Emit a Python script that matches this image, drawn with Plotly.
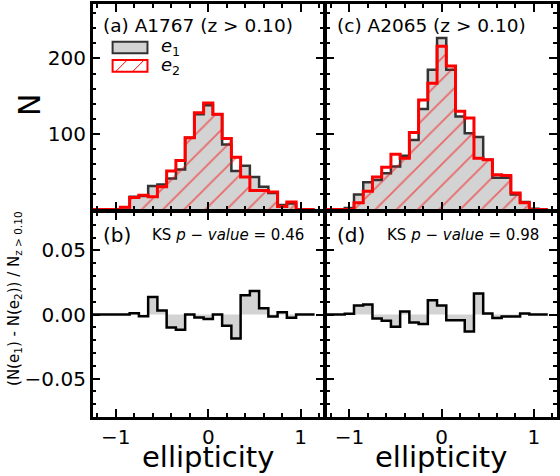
import plotly.graph_objects as go

# ---------------- data ----------------
centers = [-1.2, -1.1, -1.0, -0.9, -0.8, -0.7, -0.6, -0.5, -0.4, -0.3, -0.2, -0.1,
           0.0, 0.1, 0.2, 0.3, 0.4, 0.5, 0.6, 0.7, 0.8, 0.9, 1.0, 1.1]
bin_width = 0.1

a1767_e1 = [0, 0, 0, 3, 17, 18, 31, 33, 41, 53, 95, 126, 138, 126, 86, 51, 58, 43, 30, 22, 6, 8, 0, 0]
a1767_e2 = [0, 0, 0, 3, 16, 19, 17, 30, 51, 65, 95, 128, 141, 126, 94, 69, 43, 25, 25, 23, 4, 10, 0, 0]
a1767_diff = [0, 0, 0, 0, 0.0010, -0.0013, 0.0137, 0.0031, -0.0101, -0.0119, 0.0, -0.0023,
              -0.0036, 0.0, -0.0088, -0.0187, 0.0150, 0.0184, 0.0049, -0.0016, 0.0018, -0.0026, 0, 0]

a2065_e1 = [0, 0, 2, 20, 36, 39, 48, 57, 71, 92, 133, 185, 227, 185, 123, 101, 96, 66, 42, 42, 20, 10, 1, 0]
a2065_e2 = [0, 0, 0, 9, 24, 43, 56, 73, 68, 102, 145, 167, 216, 190, 130, 121, 68, 66, 46, 45, 22, 9, 0, 0]
a2065_diff = [0, 0, 0.0005, 0.0070, 0.0078, -0.0031, -0.0049, -0.0096, 0.0023, -0.0062, -0.0075, 0.0111,
              0.0070, -0.0044, -0.0044, -0.0132, 0.0163, 0.0008, -0.0028, -0.0016, -0.0016, 0.0008, 0, 0]

panel_titles = ["(a) A1767 (z > 0.10)", "(c) A2065 (z > 0.10)"]
diff_labels = ["(b)", "(d)"]
ks_values = ["0.46", "0.98"]

FONT = "DejaVu Sans"
GRAY = "#d3d3d3"
DARK = "#333333"


def step_xy(vals):
    xs = [c - bin_width / 2 for c in centers] + [centers[-1] + bin_width / 2]
    ys = list(vals) + [vals[-1]]
    return xs, ys


fig = go.Figure()

panels = [
    (a1767_e1, a1767_e2, a1767_diff, "x", "y", "x3", "y3"),
    (a2065_e1, a2065_e2, a2065_diff, "x2", "y2", "x4", "y4"),
]
for e1, e2, diff, xt, yt, xb, yb in panels:
    x1, y1 = step_xy(e1)
    fig.add_trace(go.Scatter(x=x1, y=y1, mode="lines", line=dict(color=DARK, width=2.5, shape="hv"),
                             fill="tozeroy", fillcolor=GRAY, xaxis=xt, yaxis=yt, showlegend=False,
                             hoverinfo="skip"))
    x2, y2 = step_xy(e2)
    fig.add_trace(go.Scatter(x=x2, y=y2, mode="lines", line=dict(color="red", width=3, shape="hv"),
                             fill="tozeroy", fillcolor="rgba(0,0,0,0)",
                             fillpattern=dict(shape="/", fgcolor="red", bgcolor="rgba(0,0,0,0)",
                                              size=15, solidity=0.12, fillmode="overlay"),
                             xaxis=xt, yaxis=yt, showlegend=False, hoverinfo="skip"))
    xd, yd = step_xy(diff)
    fig.add_trace(go.Scatter(x=xd, y=yd, mode="lines", line=dict(color="black", width=2.5, shape="hv"),
                             fill="tozeroy", fillcolor=GRAY, xaxis=xb, yaxis=yb, showlegend=False,
                             hoverinfo="skip"))

W, H = 560, 476
def px(x):
    return x / W
def py(y):
    return 1 - y / H

LW = 2.5
xl = [px(93), px(325)]
xr = [px(325 + LW), px(559)]
ytop = [py(209.5), py(4)]
ybot = [py(417), py(209.5 + LW)]

axis_common = dict(showline=True, mirror="allticks", linecolor="black", linewidth=LW,
                   ticks="inside", ticklen=8, tickwidth=2, tickcolor="black",
                   showgrid=False, zeroline=False,
                   tickfont=dict(family=FONT, size=20, color="black"))

xmin, xmax = -1.25, 1.25
xminor = dict(ticks="inside", ticklen=4, tickwidth=1.5, tickcolor="black", dtick=0.2, tick0=0, showgrid=False)

def xax(domain, anchor, labels):
    d = dict(axis_common)
    d.update(domain=domain, anchor=anchor, range=[xmin, xmax], tickmode="array",
             tickvals=[-1, 0, 1], showticklabels=labels, minor=xminor)
    return d

ytop_rng = [0, 272]
def yax_top(domain, anchor, labels):
    d = dict(axis_common)
    d.update(domain=domain, anchor=anchor, range=ytop_rng, tickmode="array",
             tickvals=[0, 100, 200], ticktext=["", "100", "200"], showticklabels=labels,
             minor=dict(ticks="inside", ticklen=4, tickwidth=1.5, tickcolor="black",
                        tickmode="linear", tick0=0, dtick=20, showgrid=False))
    return d

def yax_bot(domain, anchor, labels):
    d = dict(axis_common)
    d.update(domain=domain, anchor=anchor, range=[-0.08, 0.08], tickmode="array",
             tickvals=[-0.05, 0, 0.05], ticktext=["\u22120.05", "0.00", "0.05"], showticklabels=labels,
             minor=dict(ticks="inside", ticklen=4, tickwidth=1.5, tickcolor="black",
                        tickmode="linear", tick0=0, dtick=0.01, showgrid=False))
    return d

fig.update_layout(
    width=W, height=H, margin=dict(l=0, r=0, t=0, b=0),
    paper_bgcolor="white", plot_bgcolor="white",
    font=dict(family=FONT, color="black"),
    xaxis=xax(xl, "y", False), yaxis=yax_top(ytop, "x", True),
    xaxis2=xax(xr, "y2", False), yaxis2=yax_top(ytop, "x2", False),
    xaxis3=xax(xl, "y3", True), yaxis3=yax_bot(ybot, "x3", True),
    xaxis4=xax(xr, "y4", True), yaxis4=yax_bot(ybot, "x4", False),
    showlegend=False,
)

P = dict(xref="paper", yref="paper", showarrow=False)
ann = []
ann.append(dict(P, x=px(101), y=py(25), text=panel_titles[0], xanchor="left",
                yanchor="middle", font=dict(family=FONT, size=18.5, color="black")))
ann.append(dict(P, x=px(336), y=py(25), text=panel_titles[1], xanchor="left",
                yanchor="middle", font=dict(family=FONT, size=18.5, color="black")))
for i, x0 in enumerate([101, 336]):
    ann.append(dict(P, x=px(x0), y=py(235), text=diff_labels[i], xanchor="left",
                    yanchor="middle", font=dict(family=FONT, size=20, color="black")))
    ann.append(dict(P, x=px(x0 + 50), y=py(235),
                    text="KS <i>p</i> \u2212 <i>value</i> = " + ks_values[i],
                    xanchor="left", yanchor="middle", font=dict(family=FONT, size=15, color="black")))
# axis titles
for xc in [209, 443]:
    ann.append(dict(P, x=px(xc), y=py(476), text="ellipticity", xanchor="center", yanchor="bottom",
                    font=dict(family=FONT, size=29, color="black")))
ann.append(dict(P, x=px(29), y=py(105), text="N", textangle=-90, xanchor="center",
                yanchor="middle", font=dict(family=FONT, size=30, color="black")))
ann.append(dict(P, x=px(14), y=py(298),
                text="(N(e<sub>1</sub>) - N(e<sub>2</sub>)) / N<sub>z > 0.10</sub>", textangle=-90,
                xanchor="center", yanchor="middle",
                font=dict(family=FONT, size=15, color="black")))
# legend labels
ann.append(dict(P, x=px(160), y=py(47.5), text="<i>e</i><sub>1</sub>", xanchor="left",
                yanchor="middle", font=dict(family=FONT, size=18, color="black")))
ann.append(dict(P, x=px(160), y=py(66), text="<i>e</i><sub>2</sub>", xanchor="left",
                yanchor="middle", font=dict(family=FONT, size=18, color="black")))
fig.update_layout(annotations=ann)

shapes = []
shapes.append(dict(type="rect", xref="paper", yref="paper", x0=px(113), x1=px(148), y0=py(53.3), y1=py(41.7),
                   fillcolor=GRAY, line=dict(color=DARK, width=2)))
shapes.append(dict(type="rect", xref="paper", yref="paper", x0=px(113), x1=px(148), y0=py(71.7), y1=py(60),
                   fillcolor="rgba(0,0,0,0)", line=dict(color="red", width=2)))
for xb in [116, 133]:
    shapes.append(dict(type="line", xref="paper", yref="paper", x0=px(xb), y0=py(71.7), x1=px(xb + 11.7),
                       y1=py(60), line=dict(color="red", width=1)))
fig.update_layout(shapes=shapes)

fig.write_html("out.html")
